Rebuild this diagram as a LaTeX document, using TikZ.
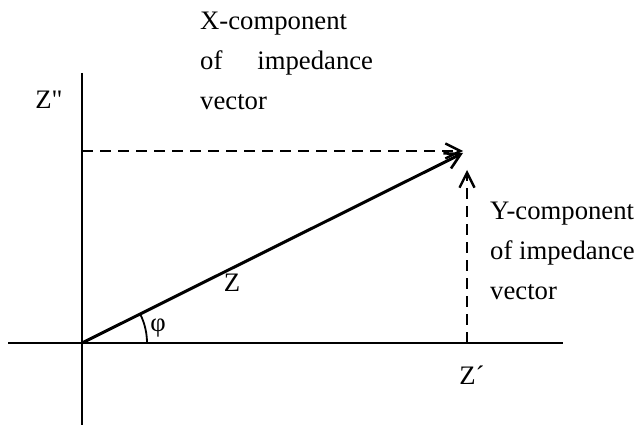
\documentclass[tikz,border=0pt]{standalone}
\usepackage{fontspec}
\setmainfont{Liberation Serif}
\newfontfamily\rawserif[Ligatures=TeXOff]{Liberation Serif}
\usetikzlibrary{arrows.meta}
\begin{document}
\begin{tikzpicture}[x=1pt,y=-1pt,
  axis/.style={line width=2pt},
  vec/.style={line width=3pt,-{Straight Barb[length=15pt,width=17pt,line width=2.6pt]}},
  comp/.style={line width=2.5pt,dash pattern=on 11pt off 7pt,-{Straight Barb[length=15pt,width=15pt,line width=2.4pt]}},
  lbl/.style={font=\fontsize{26.7}{30}\selectfont,inner sep=0pt,anchor=base west}]
\useasboundingbox (0,0) rectangle (641,425);
\coordinate (O) at (82,343);
\coordinate (ytop) at (82,73);
\coordinate (ybot) at (82,425);
\coordinate (xleft) at (8,343);
\coordinate (xright) at (563,343);
\coordinate (P) at (463,153);
\coordinate (hs) at (82,151);
\coordinate (he) at (463,151);
\coordinate (vs) at (467,343);
\coordinate (ve) at (467,170);
\coordinate (arcs) at (147,343);
\draw[axis] (ytop) -- (ybot);
\draw[axis] (xleft) -- (xright);
\draw[vec] (O) -- (P);
\draw[comp] (hs) -- (he);
\draw[comp] (vs) -- (ve);
\draw[line width=1.8pt] (arcs) arc[start angle=0,end angle=-26.5,radius=65];
\node[lbl,anchor=center] (Zl) at (232,283) {Z};
\node[lbl,anchor=center] (phi) at (158,328) {φ};
\node[lbl,anchor=center] (Zpp) at (49,100) {\rawserif Z"};
\node[lbl,anchor=center] (Zp) at (472,375) {Z´};
\node[lbl] (x1) at (200,30) {X-component};
\node[lbl] (x2) at (200,70) {of\hspace{35pt}impedance};
\node[lbl] (x3) at (200,110) {vector};
\node[lbl] (y1) at (490,220) {Y-component};
\node[lbl] (y2) at (490,260) {of impedance};
\node[lbl] (y3) at (490,300) {vector};
\end{tikzpicture}
\end{document}
